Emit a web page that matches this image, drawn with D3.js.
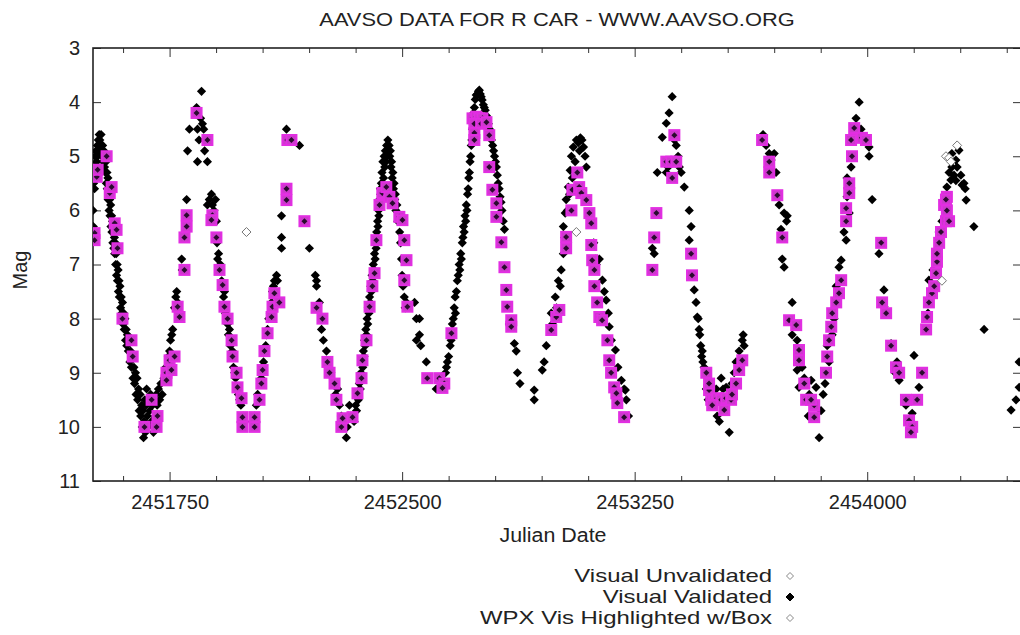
<!DOCTYPE html>
<html>
<head>
<meta charset="utf-8">
<script src="https://cdn.jsdelivr.net/npm/d3@7"></script>
<style>
  body { margin: 0; background: #fff; }
  text { font-family: "Liberation Sans", Arial, sans-serif; fill: #222; }
</style>
</head>
<body>
<svg id="chart" width="1020" height="635"></svg>
<script>
// Julian dates are stored as JD - 2450000
const JD0 = 2450000;

// Visual Validated observations, one array per cycle: [JD - JD0, mag]
const cycle1 = [[1503,6.0],[1504,6.3],[1505,5.5],[1507,5.2],[1508,5.6],[1510,5.0],[1512,5.3],[1513,4.9],[1515,5.1],[1517,4.8],[1518,5.0],[1520,4.7],[1522,4.9],[1523,4.6],
  [1525,4.7],[1527,4.9],[1529,4.6],[1531,4.8],[1532,5.0],[1534,4.8],[1536,5.1],[1538,4.9],[1540,5.2],[1541,5.0],[1543,5.3],[1545,5.1],[1546,5.5],[1548,5.3],[1549,5.6],[1551,5.4],
  [1552,5.8],[1554,5.6],[1555,6.0],[1557,5.8],[1558,6.1],[1560,5.9],[1561,6.3],[1563,6.1],[1564,6.4],[1566,6.2],[1567,6.6],[1569,6.4],[1570,6.7],[1572,6.5],[1573,6.8],[1575,6.6],
  [1576,7.0],[1578,6.8],[1579,7.2],[1581,7.0],[1582,7.3],[1584,7.1],[1585,7.5],[1587,7.3],[1588,7.6],[1590,7.4],[1592,7.8],[1594,7.6],[1596,7.9],[1598,7.7],[1600,8.1],[1602,7.9],
  [1604,8.2],[1606,8.0],[1608,8.4],[1610,8.2],[1612,8.5],[1614,8.3],[1617,8.6],[1619,8.4],[1622,8.8],[1624,8.6],[1627,8.9],[1630,8.7],[1632,9.1],[1635,8.9],[1637,9.2],[1640,9.0],
  [1642,9.4],[1645,9.1],[1647,9.5],[1650,9.3],[1652,9.7],[1655,9.4],[1657,9.8],[1660,9.6],[1662,10.0],[1664,9.7],[1666,10.2],[1668,9.9],[1670,9.5],[1672,10.1],[1674,9.6],[1676,9.3],
  [1678,9.8],[1680,10.0],[1683,9.5],[1686,9.7],[1689,9.4],[1692,9.9],[1695,9.6],[1698,10.1],[1701,9.5],[1704,9.8],[1707,9.4],[1710,9.6],[1714,9.3],[1718,9.5],[1722,9.2],
  [1726,9.4],[1732,9.1],[1738,8.9],[1742,9.0],[1746,8.7],[1750,8.6],[1753,8.4],[1757,8.3],[1760,8.2],[1766,7.8],[1770,7.6],[1773,7.5],[1776,7.7],[1789,6.9],[1791,7.1],[1805,5.8]];

const cycle2 = [[1808,4.9],[1814,4.5],[1837,4.1],[1840,5.1],[1840,4.5],[1845,4.7],[1850,4.3],[1853,3.8],[1856,4.4],[1860,4.5],[1863,4.9],[1866,4.7],[1869,4.7],[1872,5.1],
  [1872,5.9],[1878,5.8],[1885,5.7],[1888,5.9],[1893,6.0],[1898,5.8],[1901,6.2],[1903,6.6],[1905,6.9],[1908,6.8],[1911,7.1],[1914,7.0],[1918,7.3],[1921,7.4],[1924,7.6],[1927,7.5],
  [1930,7.9],[1934,8.0],[1937,8.1],[1940,8.3],[1943,8.2],[1946,8.5],[1950,8.7],[1953,8.6],[1956,8.9],[1960,9.0],[1963,9.1],[1966,8.95],[1969,9.3],[1972,9.4],[1976,9.5],[1980,9.6],
  [1983,9.5],[1987,9.8],[1992,9.9],[2024,9.8],[2030,9.6],[2034,9.4],[2040,9.5],[2043,9.2],[2046,9.1],[2050,8.9],[2053,8.8],[2056,8.6],[2060,8.5],[2063,8.3],[2066,8.2],[2070,8.0],
  [2075,7.9],[2079,7.7],[2082,7.5],[2085,7.4],[2088,7.3],[2095,7.2],[2098,7.3],[2111,6.1],[2111,6.5],[2111,6.7],[2127,4.5],[2169,4.8]];

const cycle3 = [[2201,6.7],[2220,7.2],[2224,7.3],[2224,7.4],[2233,7.7],[2240,8.2],[2246,8.4],[2256,8.6],[2262,8.8],[2270,9.0],[2279,9.2],[2285,9.4],[2288,9.5],[2292,9.3],
  [2298,9.6],[2304,9.8],[2310,10.0],[2320,10.2],[2323,10.0],[2328,9.8],[2330,9.6],
  [2345,9.9],[2350,9.6],[2353,9.7],[2356,9.4],[2359,9.5],[2362,9.2],[2365,9.3],[2367,9.0],[2369,9.1],[2371,8.8],[2373,8.9],[2375,8.6],[2377,8.7],[2379,8.4],[2381,8.5],[2383,8.2],
  [2385,8.3],[2387,8.0],[2389,8.1],[2391,7.8],[2393,7.9],[2395,7.6],[2397,7.7],[2399,7.4],[2401,7.5],[2403,7.2],[2405,7.3],[2407,7.0],[2409,7.1],[2411,6.8],[2413,6.9],[2415,6.6],
  [2416,6.7],[2418,6.4],[2419,6.5],[2421,6.2],[2422,6.3],[2424,6.0],[2425,6.1],[2427,5.8],[2428,5.9],[2430,5.6],[2431,5.7],[2433,5.5],[2435,5.3],[2436,5.6],[2438,5.1],[2440,5.4],
  [2442,5.0],[2444,5.2],[2446,4.9],[2448,5.1],[2450,4.8],[2452,5.0],[2454,4.7],[2456,4.9],[2458,4.8],[2460,5.0],[2462,4.9],[2464,5.2],[2466,5.1],[2468,5.4],[2470,5.3],[2472,5.6],
  [2474,5.5],[2476,5.8],[2478,5.7],[2480,6.0],[2483,5.9],[2486,6.2],[2489,6.1],[2492,6.4],[2495,6.6],[2498,6.9],[2500,7.2],[2503,7.4],[2507,7.6],[2510,7.8],[2514,7.7],
  [2540,7.7],[2546,8.0],[2556,8.0],[2556,8.3],[2546,8.4],[2560,8.5],[2578,8.8],[2610,9.3],[2620,9.3]];

const cycle4 = [[2640,9.0],[2643,8.9],[2646,8.8],[2650,8.7],[2655,8.5],[2658,8.4],[2662,8.1],[2665,8.0],[2668,7.8],[2671,7.6],[2672,7.9],[2675,7.5],[2678,7.3],[2681,7.2],
  [2684,7.0],[2686,7.1],[2689,6.8],[2691,6.9],[2694,6.6],[2696,6.5],[2698,6.3],[2700,6.4],[2703,6.1],[2705,6.2],[2707,5.9],[2709,6.0],[2711,5.7],[2713,5.6],[2715,5.4],[2717,5.3],
  [2719,5.1],[2721,5.0],[2723,4.8],[2725,4.7],[2727,4.5],[2729,4.4],[2731,4.2],[2733,4.1],[2736,3.95],[2739,3.87],[2743,3.85],[2746,3.8],[2749,3.78],[2752,3.85],[2755,3.9],
  [2758,3.96],[2762,4.05],[2765,4.1],[2768,4.15],[2772,4.25],[2775,4.3],[2778,4.4],[2782,4.5],[2785,4.6],[2788,4.7],[2792,4.8],[2795,4.9],[2798,5.0],[2801,5.1],[2804,5.2],
  [2807,5.35],[2810,5.5],[2813,5.6],[2816,5.75],[2819,5.85],[2822,6.0],[2826,6.2],[2830,6.35],
  [2846,8.1],[2862,8.46],[2868,8.6],[2872,9.0],[2880,9.2],[2926,9.32],[2926,9.5]];

const cycle5 = [[2952,8.95],[2958,8.8],[2965,8.5],[2981,7.9],[2985,8.1],[2994,7.6],[2998,7.8],[3004,7.3],[3010,7.4],[3013,7.1],[3020,6.8],[3020,6.3],[3024,6.5],[3026,6.05],
  [3029,5.8],[3033,6.0],[3036,5.57],[3040,5.7],[3042,5.26],[3046,5.0],[3049,5.4],[3052,4.83],[3058,5.1],[3062,4.7],[3068,4.75],[3072,4.9],[3075,4.66],[3080,4.7],[3085,4.83],
  [3090,5.0],[3094,5.2],[3118,6.6],[3123,6.9],[3126,7.0],[3136,6.9],[3146,7.29],[3152,7.5],[3158,7.66],[3165,7.9],[3168,8.15],[3175,8.4],[3188,8.58],[3196,8.9],[3207,9.14],
  [3216,9.3],[3220,9.32],[3223,9.5],[3230,9.8]];

const cycle6 = [[3307,6.7],[3313,6.8],[3323,5.3],[3339,4.65],[3352,4.39],[3352,5.3],[3358,5.2],[3361,4.2],[3371,3.9],[3378,4.7],[3384,4.8],[3390,5.0],[3394,5.2],[3400,5.3],
  [3410,5.57],[3426,6.0],[3426,6.55],[3432,6.3],[3442,7.47],[3448,7.7],[3452,7.97],[3455,8.0],[3458,8.2],[3460,8.3],[3463,8.5],[3466,8.7],[3468,8.6],[3470,8.8],[3474,8.9],
  [3481,8.95],[3481,9.3],[3487,9.5],[3490,9.2],[3497,9.6],[3500,9.5],[3503,9.4],[3506,9.6],[3513,9.3],[3516,9.8],[3523,9.9],[3526,9.5],[3529,9.1],[3535,9.3],[3539,9.7],
  [3545,9.27],[3549,9.5],[3555,10.1],[3558,9.4],[3564,9.2],[3571,9.0],[3577,8.8],[3587,8.6],[3597,8.4],[3600,8.3],[3603,8.5]];

const cycle7 = [[3664,4.6],[3674,4.8],[3684,4.95],[3690,5.07],[3700,4.95],[3706,5.3],[3716,5.9],[3722,6.35],[3726,6.9],[3732,6.05],[3732,7.05],[3740,6.2],[3742,6.1],
  [3758,7.7],[3758,8.3],[3774,8.4],[3774,8.95],[3780,9.27],[3790,8.9],[3797,9.1],[3803,9.5],[3810,9.8],[3813,9.4],[3819,9.14],[3829,9.6],[3835,9.27],[3845,10.2],[3851,9.7],
  [3858,9.4],[3864,9.2],[3871,8.5],[3877,8.8],[3887,8.3],[3893,8.0],[3900,7.4],[3903,7.7],[3909,7.05],[3916,6.92],
  [3925,6.4],[3932,6.55],[3935,5.75],[3935,5.4],[3942,6.05],[3948,5.2],[3958,4.6],[3964,4.3],[3974,4.0],[3980,4.5],[3990,4.7],[4006,4.83],[4006,5.0],[4016,5.8]];

const cycle8 = [[4038,6.8],[4054,7.47],[4054,7.78],[4077,8.46],[4090,9.0],[4096,8.8],[4103,9.14],[4125,9.6],[4135,9.9],[4145,9.75],[4151,8.68],[4167,9.27],
  [4193,8.2],[4196,7.9],[4199,7.29],[4205,7.6],[4212,7.1],[4216,7.47],[4225,6.8],[4232,6.4],[4241,6.2],[4248,5.9],[4257,5.57],[4264,5.3],[4270,5.44],[4273,5.2],[4273,4.95],
  [4280,5.35],[4286,5.07],[4286,5.45],[4290,5.2],[4296,4.89],[4302,5.35],[4306,5.53],[4312,5.5],[4316,5.6],[4319,5.81],[4344,6.3],[4377,8.2],
  [4464,9.69],[4480,9.5],[4490,9.27],[4490,8.8]];

// WPX Vis Highlighted w/Box
const highlighted = [[1508,6.42],[1508,6.55],[1515,5.38],[1518,5.25],[1547,5.0],[1557,5.68],[1563,5.57],[1573,6.24],[1579,6.36],[1582,6.7],[1598,8.0],[1627,8.4],[1631,8.7],
  [1692,9.5],[1669,10.0],[1708,10.0],[1711,9.8],[1740,9.0],[1750,8.77],[1756,8.95],[1766,8.7],[1740,9.14],[1776,7.78],[1782,7.97],[1798,7.1],[1805,6.09],[1805,6.3],[1798,6.5],
  [1837,4.2],[1872,4.7],[1888,6.09],[1885,6.18],[1901,6.5],[1911,7.1],[1921,7.38],[1927,7.78],[1937,8.0],[1950,8.4],[1953,8.7],[1966,9.0],[1969,9.27],[1982,9.47],[1985,9.82],
  [1985,10.0],[2024,10.0],[2024,9.82],[2040,9.5],[2046,9.2],[2050,8.95],[2056,8.6],[2066,8.27],[2079,7.97],[2082,7.78],[2088,7.53],[2104,7.7],[2127,5.81],[2127,5.6],[2130,4.7],
  [2143,4.7],[2185,6.2],[2224,7.8],[2243,8.0],[2259,8.8],[2266,9.0],[2282,9.2],[2288,9.5],[2304,10.0],[2308,9.84],[2340,9.82],[2356,9.38],[2369,9.1],[2372,8.77],[2385,8.4],
  [2395,7.78],[2404,7.4],[2411,7.16],[2417,6.55],[2427,5.9],[2436,5.68],[2449,5.57],[2459,5.75],[2469,5.87],[2491,6.12],[2501,6.18],[2507,6.55],[2514,6.92],[2507,7.29],[2517,7.78],
  [2581,9.1],[2620,9.1],[2636,9.2],[2630,9.28],[2659,8.27],[2727,4.3],[2739,4.27],[2749,4.3],[2759,4.3],[2733,4.4],[2755,4.4],[2772,4.37],[2733,4.57],[2733,4.7],[2781,4.61],
  [2781,5.2],[2791,5.62],[2804,5.87],[2804,6.12],[2820,6.59],[2830,7.05],[2836,7.47],[2839,7.78],[2852,8.03],[2852,8.15],[2981,8.21],[2997,7.97],[3007,7.84],[3029,6.7],[3029,6.49],
  [3046,6.0],[3049,5.62],[3065,5.3],[3071,5.57],[3078,5.68],[3094,5.81],[3104,6.05],[3110,6.24],[3110,6.64],[3113,6.92],[3120,7.1],[3120,7.4],[3129,7.7],[3136,7.97],[3145,8.03],
  [3162,8.4],[3168,8.77],[3174,9.0],[3184,9.27],[3191,9.38],[3194,9.56],[3216,9.82],[3320,6.05],[3313,6.5],[3307,7.1],[3378,4.61],[3352,5.1],[3368,5.1],[3384,5.1],[3371,5.4],
  [3432,6.8],[3435,7.2],[3481,9.0],[3490,9.32],[3497,9.5],[3490,9.2],[3506,9.5],[3516,9.47],[3529,9.5],[3545,9.47],[3561,9.5],[3539,9.69],[3564,9.4],[3577,9.2],[3587,8.95],
  [3597,8.77],[3500,9.6],[3661,4.7],[3684,5.1],[3684,5.3],[3710,5.72],[3726,6.5],[3748,8.03],[3771,8.12],[3780,8.58],[3780,8.77],[3797,9.2],[3803,9.5],[3829,9.6],[3829,9.82],
  [3819,9.5],[3867,9.0],[3871,8.7],[3877,8.4],[3884,8.15],[3887,7.9],[3900,7.7],[3909,7.53],[3916,7.29],[3932,6.2],[3932,5.96],[3942,5.68],[3942,5.5],[3951,5.0],[3948,4.7],
  [3958,4.48],[3983,4.66],[3996,4.7],[4045,6.6],[4048,7.7],[4061,7.9],[4077,8.5],[4093,8.9],[4103,9.0],[4125,9.5],[4135,9.88],[4145,10.0],[4141,10.1],[4161,9.5],[4177,9.0],
  [4190,8.2],[4193,7.97],[4199,7.7],[4209,7.53],[4216,7.4],[4222,7.16],[4225,6.95],[4225,6.8],[4232,6.6],[4238,6.4],[4254,6.2],[4248,5.9],[4257,5.75],[4254,5.8],[4257,6.0],
  [4264,6.2]];

// Visual Unvalidated
const unvalidated = [[1998,6.4],[3062,6.4],[4241,7.3],[4290,4.8],[4254,5.0],[4264,5.03],[4270,5.1]];

const majorTicksX = [2451750, 2452500, 2453250, 2454000];
const magTicks = [3, 4, 5, 6, 7, 8, 9, 10, 11];
const legendLabels = ["Visual Unvalidated", "Visual Validated", "WPX Vis Highlighted w/Box"];

const validated = [].concat(cycle1, cycle2, cycle3, cycle4, cycle5, cycle6, cycle7, cycle8);

const svg = d3.select("#chart");
const plotL = 93, plotR = 1021, plotT = 48, plotB = 481;

const x = d3.scaleLinear().domain([2451503, 2454496]).range([plotL, plotR]);
const y = d3.scaleLinear().domain([3, 11]).range([plotT, plotB]);
const minorTicksX = d3.range(2451600, 2454496, 150).filter(t => !majorTicksX.includes(t));

svg.append("defs").append("clipPath").attr("id", "clip")
  .append("rect").attr("x", plotL).attr("y", plotT).attr("width", plotR - plotL).attr("height", plotB - plotT);

const diamond = r => `M0,${-r}L${r},0L0,${r}L${-r},0Z`;

// axes with inward ticks
function styleAxis(g) {
  g.select(".domain").remove();
  g.selectAll(".tick line").attr("stroke", "#333");
  g.selectAll(".tick text").style("font-size", "20px").attr("fill", "#222");
}
svg.append("g").attr("transform", `translate(0,${plotB})`)
  .call(d3.axisBottom(x).tickValues(majorTicksX).tickSize(-9).tickPadding(14).tickFormat(d3.format("d")))
  .call(styleAxis);
svg.append("g").attr("transform", `translate(0,${plotB})`)
  .call(d3.axisBottom(x).tickValues(minorTicksX).tickSize(-5).tickFormat(""))
  .call(styleAxis);
svg.append("g").attr("transform", `translate(0,${plotT})`)
  .call(d3.axisTop(x).tickValues(majorTicksX).tickSize(-9).tickFormat(""))
  .call(styleAxis);
svg.append("g").attr("transform", `translate(0,${plotT})`)
  .call(d3.axisTop(x).tickValues(minorTicksX).tickSize(-5).tickFormat(""))
  .call(styleAxis);
svg.append("g").attr("transform", `translate(${plotL},0)`)
  .call(d3.axisLeft(y).tickValues(magTicks).tickSize(-8).tickPadding(13).tickFormat(d3.format("d")))
  .call(styleAxis);
svg.append("g").attr("transform", `translate(${plotR},0)`)
  .call(d3.axisRight(y).tickValues(magTicks).tickSize(-8).tickFormat(""))
  .call(styleAxis);

svg.append("rect").attr("x", plotL).attr("y", plotT).attr("width", plotR - plotL).attr("height", plotB - plotT)
  .attr("fill", "none").attr("stroke", "#222").attr("stroke-width", 1.6);

const plot = svg.append("g").attr("clip-path", "url(#clip)");

plot.selectAll("path.val").data(validated).join("path").attr("class", "val")
  .attr("transform", d => `translate(${x(JD0 + d[0])},${y(d[1])})`)
  .attr("d", diamond(4.6)).attr("fill", "#000");

const box = plot.selectAll("g.hl").data(highlighted).join("g").attr("class", "hl")
  .attr("transform", d => `translate(${x(JD0 + d[0])},${y(d[1])})`);
box.append("rect").attr("x", -5).attr("y", -5).attr("width", 10).attr("height", 10)
  .attr("fill", "#cc3acc").attr("stroke", "#e22ee2").attr("stroke-width", 2);
box.append("path").attr("d", diamond(3)).attr("fill", "#2a0a2e");

plot.selectAll("path.unv").data(unvalidated).join("path").attr("class", "unv")
  .attr("transform", d => `translate(${x(JD0 + d[0])},${y(d[1])})`)
  .attr("d", diamond(4.5)).attr("fill", "#fff").attr("stroke", "#777").attr("stroke-width", 1);

// titles (the original lettering is a little wider than Liberation Sans)
svg.append("text").attr("transform", "translate(557,26) scale(1.15,1)").attr("text-anchor", "middle")
  .style("font-size", "19px").text("AAVSO DATA FOR R CAR - WWW.AAVSO.ORG");
svg.append("text").attr("transform", "translate(553,542) scale(1.07,1)").attr("text-anchor", "middle")
  .style("font-size", "20px").text("Julian Date");
svg.append("text").attr("transform", "translate(27,270) rotate(-90)").attr("text-anchor", "middle")
  .style("font-size", "20px").text("Mag");

// legend
const legend = svg.append("g");
legendLabels.forEach((label, i) => {
  const ly = 576 + i * 21;
  legend.append("text").attr("transform", `translate(772,${ly + 6}) scale(1.33,1)`).attr("text-anchor", "end")
    .style("font-size", "18px").text(label);
  legend.append("path").attr("transform", `translate(790,${ly})`)
    .attr("d", diamond(i === 1 ? 4 : 3.5))
    .attr("fill", i === 1 ? "#000" : "#fff")
    .attr("stroke", i === 1 ? "#000" : "#888").attr("stroke-width", 1);
});
</script>
</body>
</html>
